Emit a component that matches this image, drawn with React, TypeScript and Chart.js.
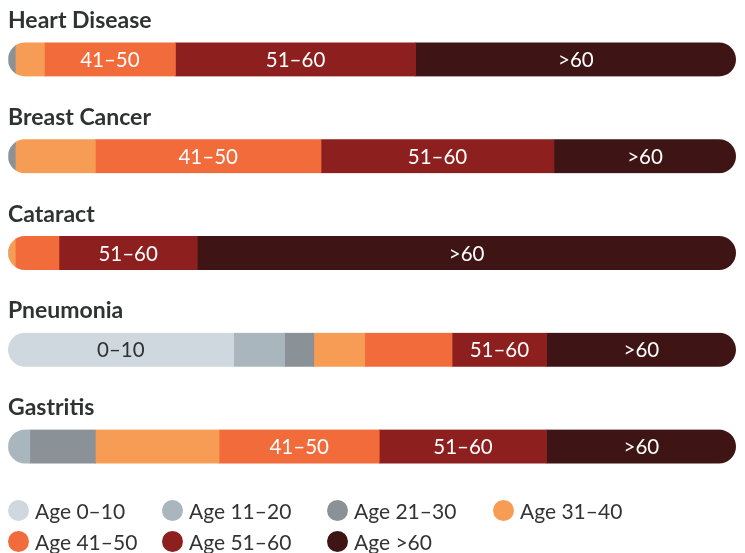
import React, { useEffect, useRef } from 'react';
import { Chart, registerables } from 'chart.js';

Chart.register(...registerables);

const categories = ['Heart Disease', 'Breast Cancer', 'Cataract', 'Pneumonia', 'Gastritis'];
const seriesLabels = ['0–10', '11–20', '21–30', '31–40', '41–50', '51–60', '>60'];
const seriesColors = ['#d0d8df', '#a9b6bd', '#8a9298', '#f79c55', '#f26b3b', '#8e1f1f', '#3e1514'];
const labelColors = ['#2e3332', '#ffffff', '#ffffff', '#ffffff', '#ffffff', '#ffffff', '#ffffff'];
const showLabel = [true, false, false, false, true, true, true];
const LABEL_MIN = 13;

const age0to10 = [0, 0, 0, 31, 0];
const age11to20 = [0, 0, 0, 7, 3];
const age21to30 = [1, 1, 0, 4, 9];
const age31to40 = [4, 11, 1, 7, 17];
const age41to50 = [18, 31, 6, 12, 22];
const age51to60 = [33, 32, 19, 13, 23];
const age60plus = [44, 25, 74, 26, 26];

const seriesValues = [age0to10, age11to20, age21to30, age31to40, age41to50, age51to60, age60plus];

const TITLE_COLOR = '#2e3332';
const FONT = 'Lato, "Open Sans", sans-serif';

const roundBarsPlugin = {
  id: 'roundBars',
  beforeDatasetsDraw(chart: any) {
    const { ctx, scales } = chart;
    const x = scales.x;
    const x0 = x.getPixelForValue(0);
    const x1 = x.getPixelForValue(100);
    const meta = chart.getDatasetMeta(0);
    ctx.save();
    ctx.beginPath();
    meta.data.forEach((el: any) => {
      const h = el.height;
      const top = el.y - h / 2;
      ctx.roundRect(x0, top, x1 - x0, h, h / 2);
    });
    ctx.clip();
  },
  afterDatasetsDraw(chart: any) {
    const { ctx, chartArea } = chart;
    ctx.restore();
    ctx.save();
    // segment labels
    ctx.font = `400 20.5px ${FONT}`;
    ctx.textAlign = 'center';
    ctx.textBaseline = 'alphabetic';
    chart.data.datasets.forEach((ds: any, di: number) => {
      if (!showLabel[di]) return;
      const meta = chart.getDatasetMeta(di);
      meta.data.forEach((el: any, i: number) => {
        const v = ds.data[i];
        if (v < LABEL_MIN) return;
        ctx.fillStyle = labelColors[di];
        ctx.fillText(seriesLabels[di], (el.x + el.base) / 2, el.y + 7.5);
      });
    });
    // category titles
    ctx.font = `700 23px ${FONT}`;
    ctx.textAlign = 'left';
    ctx.fillStyle = TITLE_COLOR;
    const meta0 = chart.getDatasetMeta(0);
    meta0.data.forEach((el: any, i: number) => {
      ctx.fillText(categories[i], chartArea.left, el.y - 31.5);
    });
    ctx.restore();
  },
};

export default function App() {
  const canvasRef = useRef<HTMLCanvasElement | null>(null);

  useEffect(() => {
    if (!canvasRef.current) return;
    const chart = new Chart(canvasRef.current, {
      type: 'bar',
      data: {
        labels: categories,
        datasets: seriesValues.map((vals, i) => ({
          label: 'Age ' + seriesLabels[i],
          data: vals,
          backgroundColor: seriesColors[i],
          borderWidth: 0,
          barThickness: 34,
        })),
      },
      options: {
        indexAxis: 'y',
        responsive: false,
        animation: false,
        devicePixelRatio: 1,
        layout: { padding: { left: 8, right: 9, top: 11, bottom: 5 } },
        scales: {
          x: { stacked: true, min: 0, max: 100, display: false },
          y: { stacked: true, display: false },
        },
        plugins: {
          legend: { display: false },
          tooltip: { enabled: false },
        },
      },
      plugins: [roundBarsPlugin],
    });
    return () => chart.destroy();
  }, []);

  return (
    <div style={{ position: 'absolute', left: 0, top: 0, width: 745, height: 553, background: '#ffffff', overflow: 'hidden' }}>
      <canvas ref={canvasRef} width={745} height={500} style={{ position: 'absolute', left: 0, top: 0, width: 745, height: 500 }} />
      <div
        style={{
          position: 'absolute',
          left: 8,
          top: 495,
          display: 'grid',
          gridTemplateColumns: '154px 165px 166px auto',
          gridAutoRows: '31px',
          fontFamily: FONT,
          fontSize: 21,
          color: '#333333',
        }}
      >
        {seriesLabels.map((s, i) => (
          <div key={s} style={{ display: 'flex', alignItems: 'center', whiteSpace: 'nowrap' }}>
            <span style={{ width: 21, height: 21, borderRadius: '50%', background: seriesColors[i], marginRight: 6, flex: '0 0 auto' }} />
            <span style={{ lineHeight: '31px' }}>{'Age ' + s}</span>
          </div>
        ))}
      </div>
    </div>
  );
}
